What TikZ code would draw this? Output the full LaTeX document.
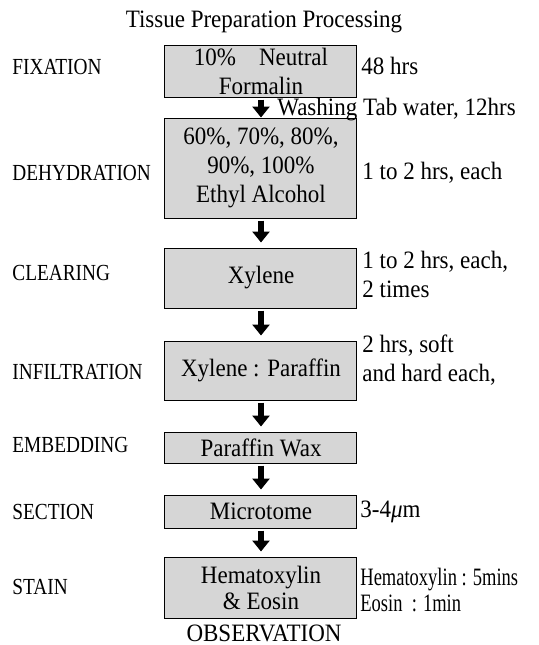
\documentclass[tikz,border=0pt]{standalone}
\usepackage{fontspec}
\setmainfont{Liberation Serif}[FakeStretch=0.92]
\newfontfamily\stagefont{Liberation Serif}[FakeStretch=0.84]
\newfontfamily\narrowfont{Liberation Serif}[FakeStretch=0.74]
\usetikzlibrary{arrows.meta}

\begin{document}
\begin{tikzpicture}[x=0.5pt, y=-0.5pt,
  every node/.style={font=\fontsize{12.5}{14.5}\selectfont},
  procbox/.style={draw=black, line width=0.5pt, fill=black!16, minimum width=96pt, align=center, inner sep=0pt},
  stagelabel/.style={anchor=west, inner sep=0pt, font=\stagefont\fontsize{11.5}{14}\selectfont},
  notelabel/.style={anchor=west, inner sep=0pt, align=left},
  flowarrow/.style={line width=3pt, -{Triangle[length=5.5pt,width=8.5pt]}, shorten <=1pt, shorten >=2.5pt}]
\useasboundingbox (0,0) rectangle (538,645);

\node (title) at (264,22) {Tissue Preparation Processing};

% process boxes
\node[procbox, minimum height=26pt] (fixation) at (261,71) {10\%\ \ \ \ Neutral\\Formalin};
\node[procbox, minimum height=50pt] (dehydration) at (261,168) {60\%, 70\%, 80\%,\\90\%, 100\%\\Ethyl Alcohol};
\node[procbox, minimum height=30pt] (clearing) at (261,278) {Xylene};
\node[procbox, minimum height=29.5pt] (infiltration) at (261,370.5) {Xylene : Paraffin};
\node[procbox, minimum height=15.5pt] (embedding) at (261,447.5) {Paraffin Wax};
\node[procbox, minimum height=16.5pt] (section) at (261,511.5) {Microtome};
\node[procbox, minimum height=30.5pt, font=\fontsize{12.5}{13}\selectfont] (stain) at (261,587.5) {Hematoxylin\\\& Eosin};
\node (observation) at (264,633) {OBSERVATION};

% stage names
\node[stagelabel] (fixlab) at (12,67) {FIXATION};
\node[stagelabel] (dehydlab) at (12,173) {DEHYDRATION};
\node[stagelabel] (clearlab) at (12,273) {CLEARING};
\node[stagelabel] (infillab) at (12,372) {INFILTRATION};
\node[stagelabel] (embedlab) at (12,445) {EMBEDDING};
\node[stagelabel] (sectlab) at (12,512) {SECTION};
\node[stagelabel] (stainlab) at (12,587) {STAIN};

% times
\node[notelabel] (fixnote) at (361,66) {48 hrs};
\node[notelabel] (washnote) at (277,110) {Washing Tab water, 12hrs};
\node[notelabel] (dehydnote) at (362,173) {1 to 2 hrs, each};
\node[notelabel] (clearnote) at (362,274) {1 to 2 hrs, each,\\2 times};
\node[notelabel] (infilnote) at (362,360) {2 hrs, soft\\and hard each,};
\node[notelabel] (sectnote) at (360,512) {3-4\textit{μ}m};
\node[notelabel, font=\narrowfont\fontsize{12.5}{13}\selectfont] (stainnote) at (360,590) {Hematoxylin : 5mins\\Eosin\ \ : 1min};

% arrows
\draw[flowarrow, shorten >=0pt] (fixation) -- (dehydration);
\draw[flowarrow] (dehydration) -- (clearing);
\draw[flowarrow] (clearing) -- (infiltration);
\draw[flowarrow] (infiltration) -- (embedding);
\draw[flowarrow] (embedding) -- (section);
\draw[flowarrow] (section) -- (stain);
\end{tikzpicture}
\end{document}
